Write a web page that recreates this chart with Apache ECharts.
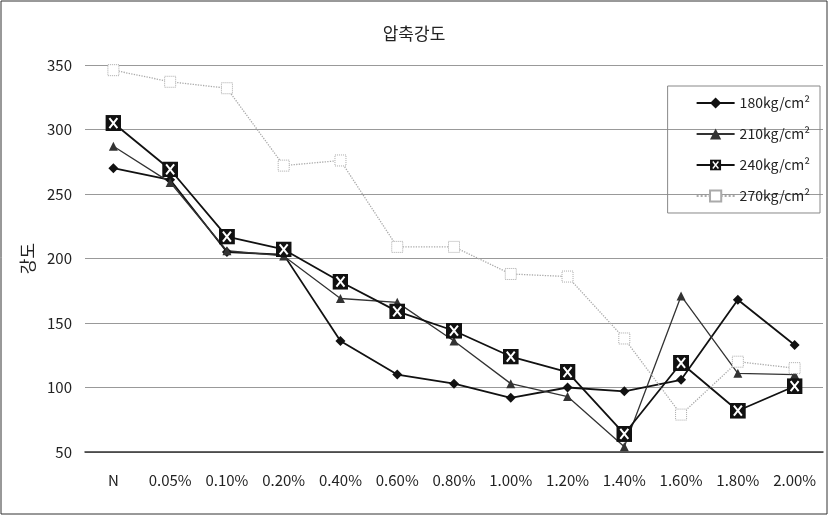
<!DOCTYPE html>
<html>
<head>
<meta charset="utf-8">
<script src="https://cdn.jsdelivr.net/npm/echarts@6/dist/echarts.min.js"></script>
<style>
  html, body { margin: 0; padding: 0; background: #fff; }
  #chart { width: 828px; height: 515px; }
</style>
</head>
<body>
<div id="chart"></div>
<script>
// 압축강도 chart data
var categories = ['N', '0.05%', '0.10%', '0.20%', '0.40%', '0.60%', '0.80%', '1.00%', '1.20%', '1.40%', '1.60%', '1.80%', '2.00%'];
var names = ['180kg/cm²', '210kg/cm²', '240kg/cm²', '270kg/cm²'];
var s180 = [270, 261, 205, 203, 136, 110, 103, 92, 100, 97, 106, 168, 133];
var s210 = [287, 259, 206, 202, 169, 166, 136, 103, 93, 54, 171, 111, 110];
var s240 = [305, 269, 217, 207, 182, 159, 144, 124, 112, 64, 119, 82, 101];
var s270 = [346, 337, 332, 272, 276, 209, 209, 188, 186, 138, 79, 120, 115];
var yTicks = [50, 100, 150, 200, 250, 300, 350];

var font = '"Noto Sans CJK KR", "DejaVu Sans", sans-serif';

// 검은 사각형 + 흰 X 마커
var xBoxSvg = '<svg xmlns="http://www.w3.org/2000/svg" width="16" height="16">' +
    '<rect x="0" y="0" width="16" height="16" fill="#111"/>' +
    '<path d="M4 3 L12 13 M12 3 L4 13" stroke="#fff" stroke-width="2"/></svg>';
var xBoxSymbol = 'image://data:image/svg+xml;utf8,' + encodeURIComponent(xBoxSvg);

var myechart = echarts.init(document.getElementById('chart'));

var option = {
    backgroundColor: '#fff',
    animation: false,
    title: {
        text: '압축강도',
        left: 'center',
        top: 20,
        textStyle: { fontFamily: font, fontSize: 17, fontWeight: 'normal', color: '#222' }
    },
    legend: {
        orient: 'vertical',
        right: 8,
        top: 86,
        padding: [10, 10, 10, 28],
        itemWidth: 38,
        itemHeight: 14,
        itemGap: 17,
        borderColor: '#888',
        borderWidth: 1,
        textStyle: { fontFamily: font, fontSize: 14, color: '#222' },
        data: names
    },
    graphic: [{
        type: 'rect',
        shape: { x: 1, y: 1, width: 826, height: 513 },
        style: { fill: 'none', stroke: '#333', lineWidth: 1 },
        silent: true
    }],
    grid: {
        left: 85,
        right: 5,
        top: 65,
        bottom: 63
    },
    xAxis: {
        type: 'category',
        data: categories,
        boundaryGap: true,
        axisLine: { lineStyle: { color: '#333', width: 1.5 } },
        axisTick: { inside: true, length: 7, lineStyle: { color: '#555' } },
        axisLabel: { fontFamily: font, fontSize: 15, color: '#222', margin: 21 }
    },
    yAxis: {
        type: 'value',
        min: 50,
        max: 350,
        interval: 50,
        name: '강도',
        nameLocation: 'middle',
        nameRotate: 90,
        nameGap: 47,
        nameTextStyle: { fontFamily: font, fontSize: 17, color: '#222' },
        axisLine: { show: false },
        axisTick: { show: false },
        axisLabel: {
            fontFamily: font, fontSize: 15, color: '#222', margin: 13,
            formatter: function (v) { return yTicks.indexOf(v) >= 0 ? v : ''; }
        },
        splitLine: { lineStyle: { color: '#999', width: 1 } }
    },
    series: [
        {
            name: names[0], type: 'line', data: s180,
            symbol: 'diamond', symbolSize: 10,
            itemStyle: { color: '#111' },
            lineStyle: { color: '#111', width: 1.8 }
        },
        {
            name: names[1], type: 'line', data: s210,
            symbol: 'triangle', symbolSize: 9,
            itemStyle: { color: '#333' },
            lineStyle: { color: '#333', width: 1.3 }
        },
        {
            name: names[2], type: 'line', data: s240,
            symbol: xBoxSymbol, symbolSize: 16,
            itemStyle: { color: '#111' },
            lineStyle: { color: '#111', width: 1.8 }
        },
        {
            name: names[3], type: 'line', data: s270,
            symbol: 'rect', symbolSize: 11,
            itemStyle: { color: '#fff', borderColor: '#aaa', borderWidth: 1, borderType: 'dotted' },
            lineStyle: { color: '#aaa', width: 1.3, type: 'dotted' }
        }
    ]
};
myechart.setOption(option);
</script>
</body>
</html>
